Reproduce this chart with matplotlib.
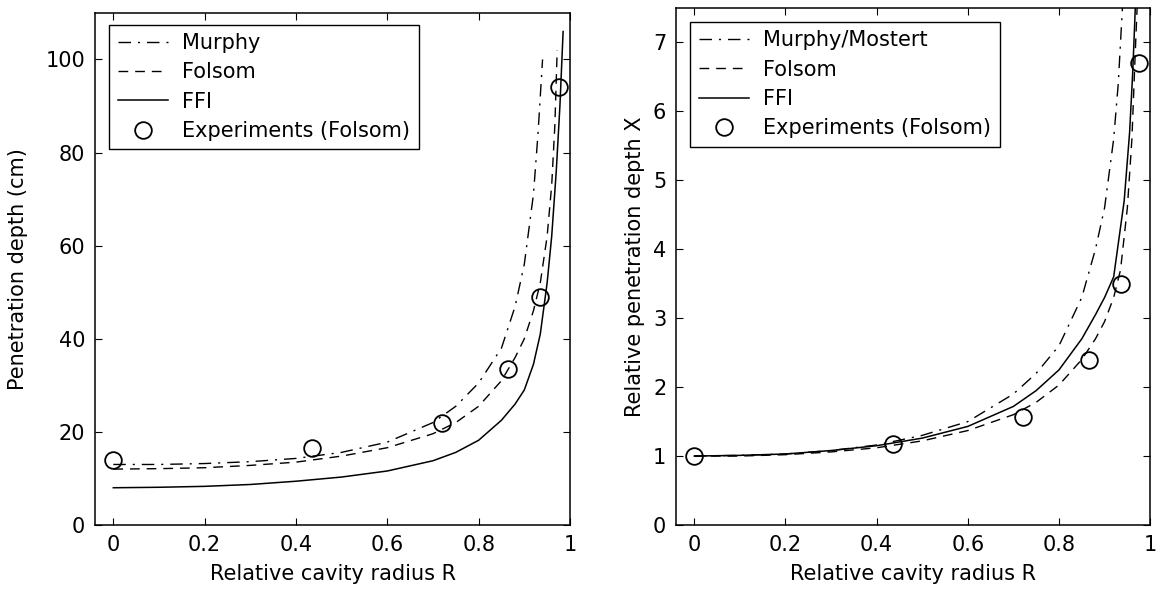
import matplotlib
matplotlib.use("Agg")
import matplotlib.pyplot as plt
from matplotlib.ticker import FuncFormatter

plt.rcParams['font.family'] = ['DejaVu Sans']

# Experiments (Folsom)
exp_r = [0.0, 0.435, 0.72, 0.865, 0.935, 0.975]
exp_depth = [14.0, 16.5, 22.0, 33.5, 49.0, 94.0]
exp_rel = [1.0, 1.18, 1.57, 2.4, 3.5, 6.7]

# Left panel: penetration depth (cm)
murphy_r = [0.0, 0.1, 0.2, 0.3, 0.4, 0.5, 0.6, 0.7, 0.75, 0.8, 0.85, 0.88, 0.9, 0.92, 0.93, 0.94]
murphy_depth = [13.0, 13.0, 13.2, 13.6, 14.3, 15.6, 17.8, 22.0, 25.5, 30.5, 38.0, 47.0, 56.0, 71.0, 84.0, 100.0]

folsom_r = [0.0, 0.1, 0.2, 0.3, 0.4, 0.5, 0.6, 0.7, 0.75, 0.8, 0.85, 0.88, 0.9, 0.92, 0.935, 0.95, 0.96, 0.967, 0.972]
folsom_depth = [12.0, 12.1, 12.3, 12.8, 13.5, 14.8, 16.6, 19.6, 22.0, 25.5, 31.0, 36.0, 40.0, 46.0, 52.0, 62.0, 73.0, 86.0, 102.0]

ffi_r = [0.0, 0.1, 0.2, 0.3, 0.4, 0.5, 0.6, 0.7, 0.75, 0.8, 0.85, 0.88, 0.9, 0.92, 0.935, 0.95, 0.96, 0.97, 0.978, 0.985]
ffi_depth = [8.0, 8.1, 8.3, 8.7, 9.4, 10.3, 11.6, 13.8, 15.6, 18.2, 22.5, 26.0, 29.0, 34.5, 41.0, 52.0, 62.0, 76.0, 90.0, 106.0]

# Right panel: relative penetration depth X
murphy_rel_r = [0.0, 0.1, 0.2, 0.3, 0.4, 0.5, 0.6, 0.7, 0.75, 0.8, 0.85, 0.88, 0.9, 0.92, 0.93, 0.94]
murphy_rel = [1.0, 1.01, 1.03, 1.08, 1.16, 1.3, 1.5, 1.9, 2.2, 2.6, 3.3, 4.0, 4.6, 5.6, 6.4, 7.6]

folsom_rel_r = [0.0, 0.1, 0.2, 0.3, 0.4, 0.5, 0.6, 0.7, 0.75, 0.8, 0.85, 0.88, 0.9, 0.92, 0.935, 0.95, 0.96, 0.967, 0.972]
folsom_rel = [1.0, 1.0, 1.02, 1.06, 1.12, 1.22, 1.37, 1.6, 1.78, 2.03, 2.4, 2.7, 2.95, 3.3, 3.7, 4.6, 5.6, 6.8, 7.6]

ffi_rel_r = [0.0, 0.1, 0.2, 0.3, 0.4, 0.5, 0.6, 0.7, 0.75, 0.8, 0.85, 0.88, 0.9, 0.92, 0.943, 0.955, 0.962, 0.968]
ffi_rel = [1.0, 1.01, 1.03, 1.08, 1.15, 1.26, 1.43, 1.72, 1.95, 2.25, 2.7, 3.05, 3.3, 3.6, 4.7, 5.7, 6.6, 7.6]

x_ticks = [0, 0.2, 0.4, 0.6, 0.8, 1.0]

dashdot = (0, (9, 5, 1.5, 5))
dashed = (0, (7, 5))
FS = 15

fig = plt.figure(figsize=(11.62, 5.92), dpi=100)
ax1 = fig.add_axes([0.0818, 0.1132, 0.4087, 0.865])
ax2 = fig.add_axes([0.5818, 0.1132, 0.408, 0.8733])

fmt = FuncFormatter(lambda v, p: f"{v:g}")


def draw_panel(ax, mr, mv, fr, fv, lr, lv, ev, murphy_label, ylim, yticks, ylabel,
               legend_top, ylabelpad):
    ax.plot(mr, mv, color="black", lw=1.0, linestyle=dashdot, label=murphy_label)
    ax.plot(fr, fv, color="black", lw=1.0, linestyle=dashed, label="Folsom")
    ax.plot(lr, lv, color="black", lw=1.1, linestyle="-", label="FFI")
    ax.plot(exp_r, ev, linestyle="none", marker="o", markersize=12, mfc="none",
            mec="black", mew=1.3, label="Experiments (Folsom)")
    ax.set_xlim(-0.04, 1.0)
    ax.set_ylim(*ylim)
    ax.set_xticks(x_ticks)
    ax.set_yticks(yticks)
    ax.xaxis.set_major_formatter(fmt)
    ax.yaxis.set_major_formatter(fmt)
    ax.tick_params(direction="in", top=True, right=True, length=5, width=0.8,
                   labelsize=FS, pad=7)
    for s in ax.spines.values():
        s.set_linewidth(1.1)
    ax.set_xlabel("Relative cavity radius R", fontsize=FS, labelpad=7)
    ax.set_ylabel(ylabel, fontsize=FS, labelpad=ylabelpad)
    leg = ax.legend(loc="upper left", bbox_to_anchor=(0.03, legend_top), borderaxespad=0,
                    fontsize=FS, fancybox=False, edgecolor="black", framealpha=1,
                    handlelength=2.4, handletextpad=0.7, labelspacing=0.45,
                    borderpad=0.4)
    leg.get_frame().set_linewidth(1.0)


draw_panel(ax1, murphy_r, murphy_depth, folsom_r, folsom_depth, ffi_r, ffi_depth,
           exp_depth, "Murphy", (0, 110), [0, 20, 40, 60, 80, 100],
           "Penetration depth (cm)", 0.977, 13)
draw_panel(ax2, murphy_rel_r, murphy_rel, folsom_rel_r, folsom_rel, ffi_rel_r, ffi_rel,
           exp_rel, "Murphy/Mostert", (0, 7.5), [0, 1, 2, 3, 4, 5, 6, 7],
           "Relative penetration depth X", 0.973, 6)

fig.savefig("out.png", dpi=100)
